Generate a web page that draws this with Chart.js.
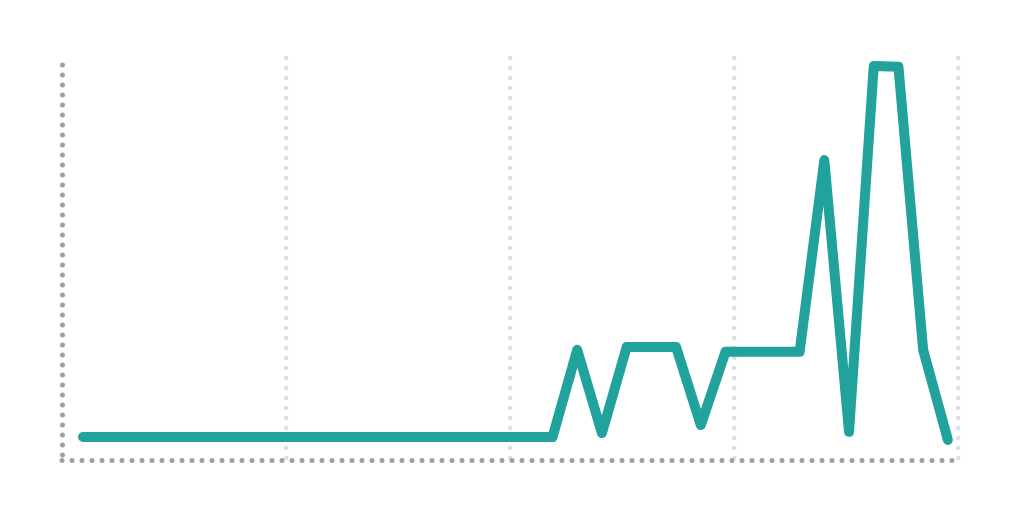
<!DOCTYPE html>
<html>
<head>
<meta charset="utf-8">
<script src="https://cdn.jsdelivr.net/npm/chart.js@4/dist/chart.umd.min.js"></script>
<style>
  html, body { margin: 0; padding: 0; background: #fff; }
  #wrap { width: 1024px; height: 512px; }
</style>
</head>
<body>
<div id="wrap"><canvas id="trend"></canvas></div>
<script>
// x positions (one step per period) and the series
const steps = [
    0, 1, 2, 3, 4, 5, 6, 7, 8, 9,
    10, 11, 12, 13, 14, 15, 16, 17, 18, 19,
    20, 21, 22, 23, 24, 25, 26, 27, 28, 29,
    30, 31, 32, 33, 34, 35
];
const values = [
    5.7, 5.7, 5.7, 5.7, 5.7, 5.7, 5.7, 5.7, 5.7, 5.7,
    5.7, 5.7, 5.7, 5.7, 5.7, 5.7, 5.7, 5.7, 5.7, 5.7,
    27.4, 6.7, 28.1, 28.1, 28.1, 8.7, 26.9, 26.9, 26.9, 26.9,
    74.6, 7.0, 98.0, 97.8, 27.4, 5.0
];
const xMin = -0.85;
const xMax = 35.41;
const gridCount = 4;

const lineColor = '#21a29c';
const axisDots = '#9ba1aa';
const gridDots = '#dcdfe5';

const points = steps.map((s, i) => ({ x: s, y: values[i] }));

// round dots for the dashed axis/grid lines
const roundDots = {
    id: 'roundDots',
    beforeDraw(chart) {
        chart.ctx.lineCap = 'round';
    }
};

const ctx = document.getElementById('trend').getContext('2d');

new Chart(ctx, {
    type: 'line',
    data: {
        datasets: [{
            data: points,
            borderColor: lineColor,
            borderWidth: 10,
            borderCapStyle: 'round',
            borderJoinStyle: 'round',
            pointRadius: 0,
            pointHoverRadius: 0,
            tension: 0,
            fill: false,
            clip: false,
        }]
    },
    options: {
        responsive: true,
        maintainAspectRatio: false,
        animation: false,
        layout: {
            padding: { left: 62, right: 66, top: 58, bottom: 52 }
        },
        scales: {
            x: {
                type: 'linear',
                min: xMin,
                max: xMax,
                afterBuildTicks: (axis) => {
                    const t = [];
                    for (let k = 0; k <= gridCount; k++) {
                        t.push({ value: xMin + (xMax - xMin) * k / gridCount });
                    }
                    axis.ticks = t;
                },
                ticks: { display: false },
                grid: {
                    // first line is the left axis
                    color: (c) => c.index === 0 ? axisDots : gridDots,
                    lineWidth: (c) => c.index === 0 ? 5 : 4.5,
                    drawTicks: false,
                },
                border: {
                    display: false,
                    dash: [0, 10],
                    dashOffset: (c) => c.index === 0 ? -7 : 0,
                }
            },
            y: {
                min: 0,
                max: 100,
                afterBuildTicks: (axis) => {
                    axis.ticks = [{ value: 0 }];
                },
                ticks: { display: false },
                grid: {
                    color: axisDots,
                    lineWidth: 5,
                    drawTicks: false,
                },
                border: {
                    display: false,
                    dash: [0, 10],
                }
            }
        },
        plugins: {
            legend: { display: false },
            tooltip: { enabled: false },
        }
    },
    plugins: [roundDots]
});
</script>
</body>
</html>
